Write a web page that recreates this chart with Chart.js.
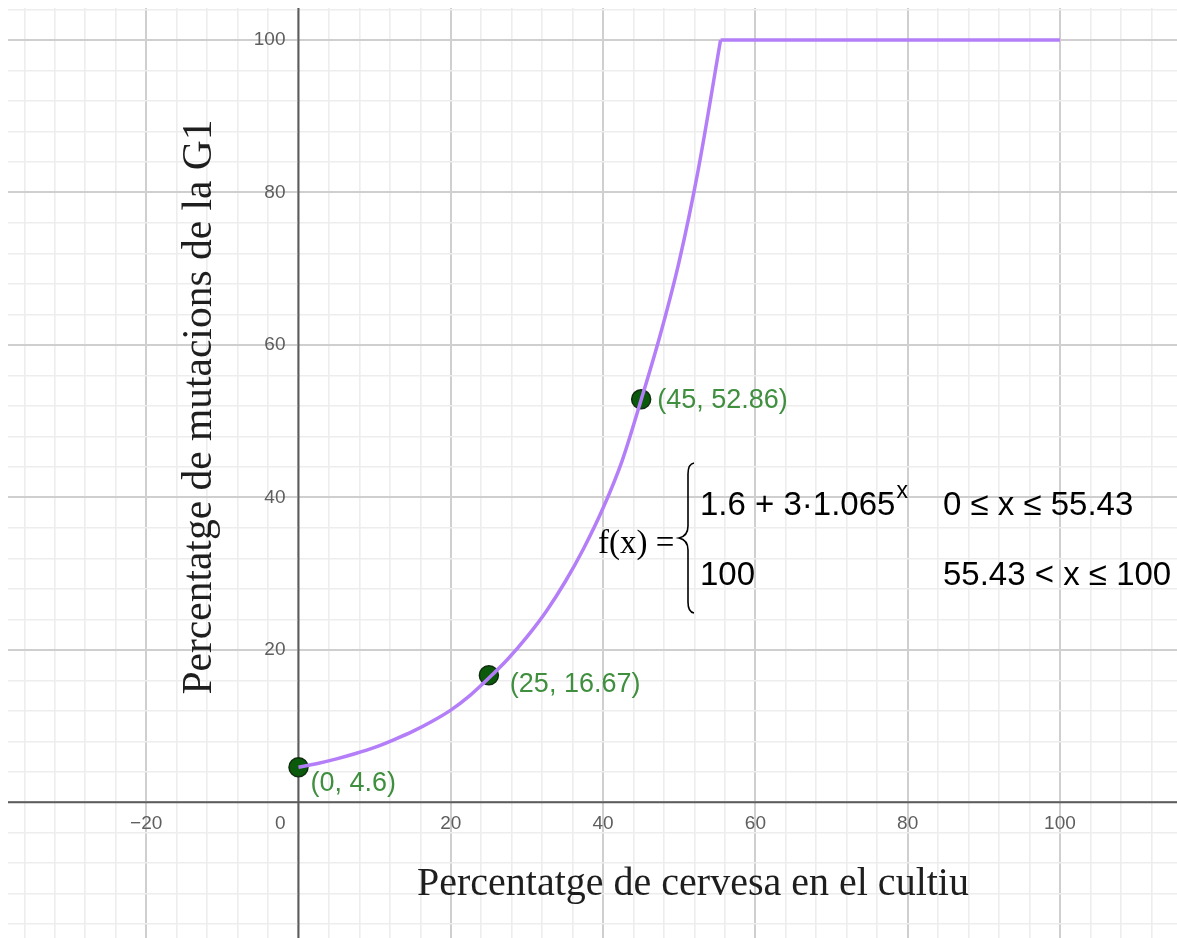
<!DOCTYPE html>
<html><head><meta charset="utf-8">
<script src="https://cdn.jsdelivr.net/npm/chart.js@4.4.1/dist/chart.umd.min.js"></script>
<style>html,body{margin:0;padding:0;background:#fff;overflow:hidden}canvas{display:block}</style>
</head><body>
<canvas id="c" width="1177" height="938"></canvas>
<script>
// ---- data ----
const curveX = [0, 2.5, 5, 7.5, 10, 12.5, 15, 17.5, 20, 22.5, 25, 27.5, 30, 32.5, 35, 37.5, 40, 42.5, 45, 47.5, 50, 52.5, 55.43];
const curveY = [4.6, 5.1, 5.7, 6.4, 7.2, 8.2, 9.3, 10.6, 12.1, 14.0, 16.3, 18.8, 21.7, 25.0, 28.9, 33.4, 38.6, 44.8, 52.8, 61.3, 71.0, 83.0, 100];
const plateauX = [55.43, 100];
const plateauY = [100, 100];
const markX = [0, 25, 45];
const markY = [4.6, 16.67, 52.86];
const markLabels = ['(0, 4.6)', '(25, 16.67)', '(45, 52.86)'];
const xTickValues = [-20, 0, 20, 40, 60, 80, 100];
const yTickValues = [20, 40, 60, 80, 100];
const xRange = [-38.15, 115.37];
const yRange = [-17.8, 104.2];
const xTitle = 'Percentatge de cervesa en el cultiu';
const yTitle = 'Percentatge de mutacions de la G1';
const formulaName = 'f(x) =';
const formulaRows = [
  { expr: '1.6 + 3·1.065', sup: 'x', cond: '0 ≤ x ≤ 55.43' },
  { expr: '100', sup: '', cond: '55.43 < x ≤ 100' }
];

// ---- styles ----
const labelOffsets = [[12, 16], [21, 9], [16, 1]];
const SANS = '"Liberation Sans", Arial, sans-serif';
const SERIF = '"Liberation Serif", "Times New Roman", serif';

const toPts = (xs, ys) => xs.map((v, i) => ({ x: v, y: ys[i] }));

const gridScale = (range) => ({
  type: 'linear', min: range[0], max: range[1], bounds: 'data',
  ticks: { display: false },
  border: { display: false },
  afterBuildTicks: (scale) => {
    const t = [];
    for (let v = Math.ceil(scale.min / 4) * 4; v <= scale.max; v += 4) t.push({ value: v });
    scale.ticks = t;
  },
  grid: {
    drawTicks: false,
    color: c => (c.tick && c.tick.value % 20 === 0) ? '#cfcfcf' : '#ededed',
    lineWidth: c => (c.tick && c.tick.value % 20 === 0) ? 2 : 1.6
  }
});

const decor = {
  id: 'decor',
  beforeDatasetsDraw(chart) {
    const { ctx, chartArea: a, scales: { x, y } } = chart;
    ctx.save();
    const x0 = x.getPixelForValue(0), y0 = y.getPixelForValue(0);
    ctx.strokeStyle = '#5c5c5c'; ctx.lineWidth = 2;
    ctx.beginPath();
    ctx.moveTo(a.left, y0); ctx.lineTo(a.right, y0);
    ctx.moveTo(x0, a.top); ctx.lineTo(x0, a.bottom);
    ctx.stroke();

    // tick labels
    ctx.fillStyle = '#5e5e5e'; ctx.font = '19px ' + SANS; ctx.textBaseline = 'middle';
    xTickValues.forEach(v => {
      const px = x.getPixelForValue(v);
      const txt = v < 0 ? '\u2212' + Math.abs(v) : String(v);
      if (v === 0) { ctx.textAlign = 'right'; ctx.fillText(txt, px - 13, y0 + 21); }
      else { ctx.textAlign = 'center'; ctx.fillText(txt, px, y0 + 21); }
    });
    ctx.textAlign = 'right';
    yTickValues.forEach(v => ctx.fillText(String(v), x0 - 13, y.getPixelForValue(v)));

    // axis titles
    ctx.fillStyle = '#1e1e1e'; ctx.textBaseline = 'alphabetic';
    ctx.textAlign = 'center';
    ctx.font = '40px ' + SERIF;
    ctx.fillText(xTitle, 693, 895);
    ctx.save();
    ctx.translate(211, 407); ctx.rotate(-Math.PI / 2);
    ctx.font = '41.5px ' + SERIF;
    ctx.fillText(yTitle, 0, 0);
    ctx.restore();

    // formula
    ctx.fillStyle = '#000'; ctx.textAlign = 'left';
    ctx.font = '33px ' + SERIF;
    ctx.fillText(formulaName, 598, 553);
    ctx.strokeStyle = '#000'; ctx.lineWidth = 1.6;
    ctx.beginPath();
    ctx.moveTo(694, 463); ctx.quadraticCurveTo(688, 464, 688, 474);
    ctx.lineTo(688, 526); ctx.quadraticCurveTo(688, 536, 679, 538);
    ctx.quadraticCurveTo(688, 540, 688, 550);
    ctx.lineTo(688, 602); ctx.quadraticCurveTo(688, 612, 694, 613);
    ctx.stroke();
    const bases = [515, 585];
    formulaRows.forEach((r, i) => {
      ctx.font = '33px ' + SANS;
      ctx.fillText(r.expr, 700, bases[i]);
      const w = ctx.measureText(r.expr).width;
      if (r.sup) { ctx.font = '23px ' + SANS; ctx.fillText(r.sup, 700 + w + 1, bases[i] - 17); }
      ctx.font = '33px ' + SANS;
      ctx.fillText(r.cond, 943, bases[i]);
    });
    ctx.restore();
  },
  afterDatasetsDraw(chart) {
    const { ctx, scales: { x, y } } = chart;
    ctx.save();
    ctx.fillStyle = '#3f8f3f'; ctx.font = '27px ' + SANS;
    ctx.textAlign = 'left'; ctx.textBaseline = 'middle';
    markLabels.forEach((t, i) => {
      ctx.fillText(t, x.getPixelForValue(markX[i]) + labelOffsets[i][0], y.getPixelForValue(markY[i]) + labelOffsets[i][1]);
    });
    ctx.restore();
  }
};

new Chart(document.getElementById('c'), {
  type: 'scatter',
  data: {
    datasets: [
      { data: toPts(curveX, curveY), showLine: true, borderColor: '#b47ef8', borderWidth: 3.5, pointRadius: 0, cubicInterpolationMode: 'monotone' },
      { data: toPts(plateauX, plateauY), showLine: true, borderColor: '#b47ef8', borderWidth: 3.5, pointRadius: 0, tension: 0 },
      { data: toPts(markX, markY), showLine: false, pointRadius: 9.5, backgroundColor: '#0b5a0b', borderColor: '#102e10', borderWidth: 1.5 }
    ]
  },
  options: {
    responsive: false, animation: false, devicePixelRatio: 1,
    layout: { autoPadding: false, padding: { left: 8, top: 8, right: 0, bottom: 0 } },
    plugins: { legend: { display: false }, tooltip: { enabled: false } },
    scales: { x: gridScale(xRange), y: gridScale(yRange) }
  },
  plugins: [decor]
});
</script>
</body></html>
